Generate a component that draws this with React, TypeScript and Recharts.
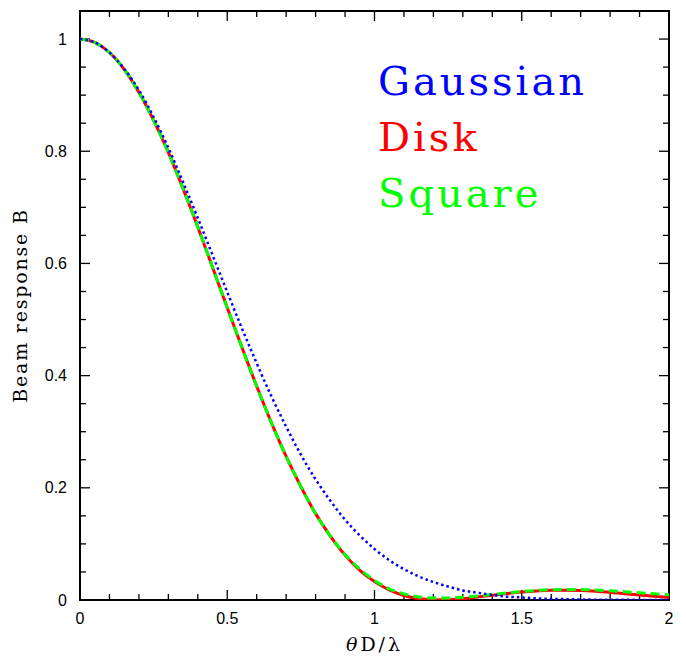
import React from 'react';
import { ComposedChart, Line, XAxis, YAxis, ReferenceLine, ReferenceArea, Legend, Label } from 'recharts';

const theta = [0, 0.05, 0.1, 0.15, 0.2, 0.25, 0.3, 0.35, 0.4, 0.45, 0.5, 0.55, 0.6, 0.65, 0.7, 0.75, 0.8, 0.85, 0.9, 0.95, 1, 1.05, 1.1, 1.15, 1.2, 1.25, 1.3, 1.35, 1.4, 1.45, 1.5, 1.55, 1.6, 1.65, 1.7, 1.75, 1.8, 1.85, 1.9, 1.95, 2];
const gaussian = [1, 0.994, 0.976, 0.947, 0.909, 0.861, 0.806, 0.745, 0.681, 0.615, 0.549, 0.484, 0.422, 0.363, 0.309, 0.259, 0.215, 0.177, 0.143, 0.115, 0.091, 0.071, 0.055, 0.042, 0.032, 0.024, 0.017, 0.013, 0.009, 0.006, 0.0045, 0.003, 0.002, 0.0015, 0.001, 0.0006, 0.0004, 0.0003, 0.0002, 0.0001, 0.0001];
const disk = [1, 0.994, 0.976, 0.946, 0.905, 0.855, 0.798, 0.733, 0.665, 0.593, 0.521, 0.45, 0.381, 0.316, 0.256, 0.202, 0.154, 0.114, 0.08, 0.053, 0.033, 0.018, 0.008, 0.0025, 0.0002, 0.0004, 0.0023, 0.0052, 0.0085, 0.0116, 0.0142, 0.0162, 0.0172, 0.0174, 0.0168, 0.0154, 0.0135, 0.0113, 0.009, 0.0067, 0.0046];
const square = [1, 0.994, 0.976, 0.946, 0.905, 0.855, 0.798, 0.733, 0.665, 0.593, 0.521, 0.45, 0.381, 0.316, 0.256, 0.202, 0.154, 0.114, 0.081, 0.055, 0.035, 0.02, 0.011, 0.0055, 0.0035, 0.0037, 0.005, 0.007, 0.0098, 0.0125, 0.015, 0.017, 0.0183, 0.0188, 0.0187, 0.0178, 0.0165, 0.0148, 0.013, 0.011, 0.0092];

const xTickLabels = [0, 0.5, 1, 1.5, 2];
const yTickLabels = [0, 0.2, 0.4, 0.6, 0.8, 1];
const xMajorTicks = [0.5, 1, 1.5];
const xMinorTicks = [0.1, 0.2, 0.3, 0.4, 0.6, 0.7, 0.8, 0.9, 1.1, 1.2, 1.3, 1.4, 1.6, 1.7, 1.8, 1.9];
const yMajorTicks = [0.2, 0.4, 0.6, 0.8, 1];
const yMinorTicks = [0.05, 0.1, 0.15, 0.25, 0.3, 0.35, 0.45, 0.5, 0.55, 0.65, 0.7, 0.75, 0.85, 0.9, 0.95];
const legendOrder = ['Gaussian', 'Disk', 'Square'];

const X_MAX = 2;
const Y_MAX = 1.05;
const PLOT_W = 589;
const PLOT_H = 589;
const pxX = X_MAX / PLOT_W;
const pxY = Y_MAX / PLOT_H;
const MAJOR = 10;
const MINOR = 6;

const data = theta.map((t, i) => ({ theta: t, gaussian: gaussian[i], disk: disk[i], square: square[i] }));

const tickStyle = { fontFamily: '"Liberation Sans", Arial, sans-serif', fontSize: 16, fill: '#000' };
const serif = '"DejaVu Serif", serif';

function buildTicks() {
  const segs: any[] = [];
  const addX = (list: number[], len: number, tag: string) => {
    list.forEach((x) => {
      segs.push(<ReferenceLine key={`xb${tag}${x}`} ifOverflow="visible" stroke="#000" strokeWidth={1.3} segment={[{ x, y: 0 }, { x, y: len * pxY }]} />);
      segs.push(<ReferenceLine key={`xt${tag}${x}`} ifOverflow="visible" stroke="#000" strokeWidth={1.3} segment={[{ x, y: Y_MAX }, { x, y: Y_MAX - len * pxY }]} />);
    });
  };
  const addY = (list: number[], len: number, tag: string) => {
    list.forEach((y) => {
      segs.push(<ReferenceLine key={`yl${tag}${y}`} ifOverflow="visible" stroke="#000" strokeWidth={1.3} segment={[{ x: 0, y }, { x: len * pxX, y }]} />);
      segs.push(<ReferenceLine key={`yr${tag}${y}`} ifOverflow="visible" stroke="#000" strokeWidth={1.3} segment={[{ x: X_MAX, y }, { x: X_MAX - len * pxX, y }]} />);
    });
  };
  addX(xMajorTicks, MAJOR, 'M');
  addX(xMinorTicks, MINOR, 'm');
  addY(yMajorTicks, MAJOR, 'M');
  addY(yMinorTicks, MINOR, 'm');
  return segs;
}

const XLabelContent = (props: any) => {
  const vb = props.viewBox || {};
  const x0 = vb.x ?? 80;
  const w = vb.width ?? 589;
  const y0 = vb.y ?? 600;
  return (
    <text x={x0 + w / 2} y={y0 + 51} textAnchor="middle" fontFamily={serif} fontSize={19} letterSpacing={3} fill="#000">
      <tspan fontStyle="italic">θ</tspan>D/λ
    </text>
  );
};

const YLabelContent = (props: any) => {
  const vb = props.viewBox || {};
  const x0 = vb.x ?? 0;
  const y0 = vb.y ?? 11;
  const h = vb.height ?? 589;
  const cx = x0 + 27;
  const cy = y0 + h / 2;
  return (
    <text x={cx} y={cy} transform={`rotate(-90 ${cx} ${cy})`} textAnchor="middle" fontFamily={serif} fontSize={19} letterSpacing={1.8} fill="#000">
      Beam response B
    </text>
  );
};

const renderLegend = (props: any) => {
  const items = [...(props.payload || [])].sort((a: any, b: any) => legendOrder.indexOf(a.value) - legendOrder.indexOf(b.value));
  return (
    <div>
      {items.map((it: any) => (
        <div key={it.value} style={{ color: it.color, fontFamily: serif, fontSize: 40, lineHeight: '56px', letterSpacing: 3, whiteSpace: 'nowrap' }}>
          {it.value}
        </div>
      ))}
    </div>
  );
};

export default function App() {
  return (
    <div style={{ position: 'absolute', left: 0, top: 0, background: '#fff' }}>
      <ComposedChart width={686} height={657} data={data} margin={{ top: 11, right: 17, bottom: 0, left: 0 }}>
        <XAxis dataKey="theta" type="number" domain={[0, X_MAX]} ticks={xTickLabels} tickFormatter={(v: number) => String(v)} axisLine={false} tickLine={false} tickSize={0} tickMargin={13} height={57} tick={tickStyle} interval={0}>
          <Label content={XLabelContent} />
        </XAxis>
        <YAxis type="number" domain={[0, Y_MAX]} ticks={yTickLabels} tickFormatter={(v: number) => String(v)} axisLine={false} tickLine={false} tickSize={0} tickMargin={13} width={80} tick={tickStyle} interval={0} allowDataOverflow>
          <Label content={YLabelContent} />
        </YAxis>
        <ReferenceArea x1={0} x2={X_MAX} y1={0} y2={Y_MAX} fill="none" fillOpacity={0} stroke="#000" strokeWidth={2} ifOverflow="visible" />
        {buildTicks()}
        <Line dataKey="disk" name="Disk" type="monotone" stroke="#ff0000" strokeWidth={3} dot={false} activeDot={false} isAnimationActive={false} />
        <Line dataKey="square" name="Square" type="monotone" stroke="#00ff00" strokeWidth={3} strokeDasharray="9 5" dot={false} activeDot={false} isAnimationActive={false} />
        <Line dataKey="gaussian" name="Gaussian" type="monotone" stroke="#0000ff" strokeWidth={2.5} strokeDasharray="2.5 3" dot={false} activeDot={false} isAnimationActive={false} />
        <Legend layout="vertical" align="center" verticalAlign="middle" content={renderLegend} wrapperStyle={{ left: 378, top: 53, width: 300, height: 180 }} />
      </ComposedChart>
    </div>
  );
}
